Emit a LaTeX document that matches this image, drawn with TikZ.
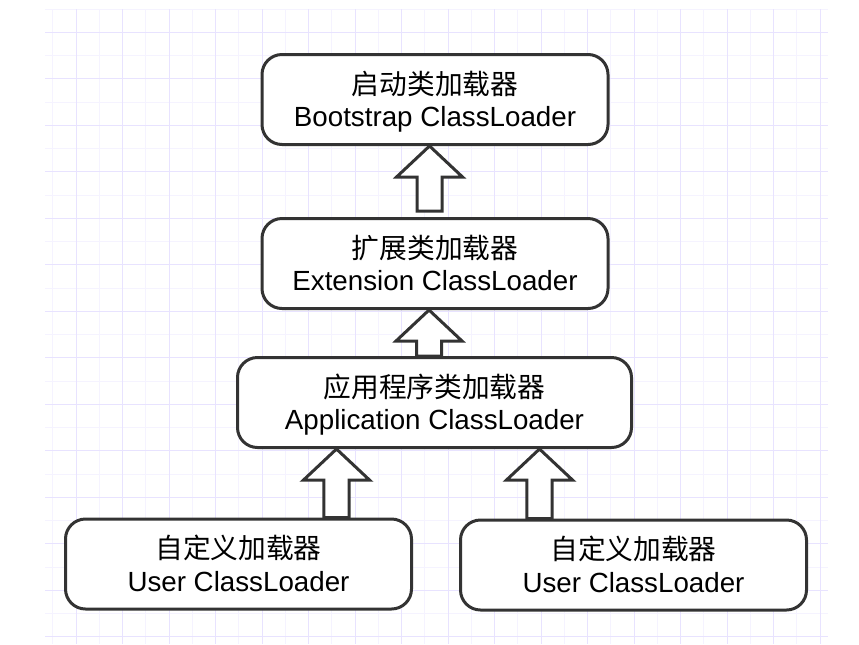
\documentclass[tikz,border=0pt]{standalone}
\usepackage{fontspec}
\setmainfont{Liberation Sans}
\newfontfamily\cjk{Noto Sans CJK SC}
\usetikzlibrary{calc}

\definecolor{gridmajor}{HTML}{E8E3FF}
\definecolor{gridminor}{HTML}{F5F3FF}
\definecolor{loaderline}{HTML}{333333}

\tikzset{
  loader box/.style={rectangle, draw=loaderline, fill=white, line width=2.25pt, rounded corners=15pt, minimum width=259.5pt, minimum height=67.5pt, inner sep=0pt, align=center, font=\fontsize{20.8}{24.5}\selectfont},
  loader wide/.style={loader box, minimum width=295.5pt},
  loader arrow/.style={draw=loaderline, fill=white, line width=2.25pt, line join=miter},
  grid major/.style={draw=gridmajor, line width=0.75pt},
  grid minor/.style={draw=gridminor, line width=0.75pt},
}

% two-line label: chinese name over english name
\newcommand\loaderlabel[2]{\rule{0pt}{16.3pt}\smash{\cjk #1}\\\smash{#2}}

% hollow up arrow: #1 = foot of the shaft, #2 = tip
\newcommand\blockup[2]{%
  \draw[loader arrow] let \p1=#1, \p2=#2 in
    ({\x1-9.4pt},\y1) -- ({\x1-9.4pt},{\y2-23.25pt}) -- ({\x1-24.75pt},{\y2-23.25pt})
    -- (\x1,\y2) -- ({\x1+24.75pt},{\y2-23.25pt}) -- ({\x1+9.4pt},{\y2-23.25pt})
    -- ({\x1+9.4pt},\y1) -- cycle;}

\begin{document}
\begin{tikzpicture}[x=0.75pt, y=-0.75pt]
  \useasboundingbox[fill=white] (0,0) rectangle (859,644);

  % background grid
  \begin{scope}
    \clip (45,9) rectangle (828,644);
    \foreach \k in {0,2,...,32} \draw[grid minor] ({52.75+23.25*\k},9) -- ({52.75+23.25*\k},644);
    \foreach \k in {0,2,...,26} \draw[grid minor] (45,{9+23.25*\k}) -- (828,{9+23.25*\k});
    \foreach \k in {1,3,...,33} \draw[grid major] ({52.75+23.25*\k},9) -- ({52.75+23.25*\k},644);
    \foreach \k in {1,3,...,27} \draw[grid major] (45,{9+23.25*\k}) -- (828,{9+23.25*\k});
  \end{scope}

  \node (boot) [loader box] at (435,99.5) {\loaderlabel{启动类加载器}{Bootstrap ClassLoader}};
  \node (ext) [loader box] at (435,263.5) {\loaderlabel{扩展类加载器}{Extension ClassLoader}};
  \node (app) [loader wide] at (434.5,402.5) {\loaderlabel{应用程序类加载器}{Application ClassLoader}};
  \node (user1) [loader box] at (238.5,564) {\loaderlabel{自定义加载器}{User ClassLoader}};
  \node (user2) [loader box] at (633.5,565) {\loaderlabel{自定义加载器}{User ClassLoader}};

  \blockup{([shift={(-4.1pt,4.5pt)}]ext.north)}{(boot.south)}
  \blockup{([xshift=-4.1pt]app.north)}{(ext.south)}
  \blockup{([xshift=73.5pt]user1.north)}{(app.south)}
  \blockup{([xshift=-70.5pt]user2.north)}{(app.south)}
\end{tikzpicture}
\end{document}
